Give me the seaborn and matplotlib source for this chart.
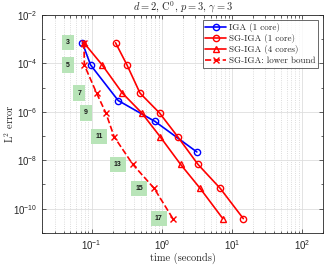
import numpy as np
import pandas as pd
import seaborn as sns
import matplotlib
matplotlib.use("Agg")
import matplotlib.pyplot as plt
from matplotlib.ticker import LogLocator, NullFormatter

# data (time in seconds, L2 error)
iga_time = [0.074, 0.097, 0.24, 0.80, 3.16]
iga_err = [7e-4, 8.5e-5, 2.9e-6, 4.0e-7, 2.2e-8]

sg_err = [7e-4, 8.5e-5, 5.9e-6, 8.9e-7, 9.3e-8, 6.8e-9, 6.9e-10, 3.9e-11]
sg1_time = [0.22, 0.32, 0.49, 0.93, 1.69, 3.27, 6.8, 14.5]
sg4_time = [0.078, 0.142, 0.275, 0.52, 0.95, 1.85, 3.52, 7.4]
lb_time = [0.078, 0.079, 0.118, 0.16, 0.21, 0.386, 0.78, 1.44]

levels = ["3", "5", "7", "9", "11", "13", "15", "17"]
level_x = [0.0464, 0.0464, 0.0667, 0.083, 0.127, 0.235, 0.48, 0.90]

sns.set_style("ticks")
plt.rcParams["mathtext.fontset"] = "cm"
plt.rcParams["axes.formatter.use_mathtext"] = True
plt.rcParams["font.family"] = ["Liberation Sans", "DejaVu Sans"]
serif = "cmr10"

fig = plt.figure(figsize=(3.24, 2.65), dpi=100)
ax = fig.add_axes([0.131, 0.121, 0.867, 0.823])

series = [
    ("IGA (1 core)", iga_time, iga_err, "blue", "o", "-"),
    ("SG-IGA (1 core)", sg1_time, sg_err, "red", "o", "-"),
    ("SG-IGA (4 cores)", sg4_time, sg_err, "red", "^", "-"),
    ("SG-IGA: lower bound", lb_time, sg_err, "red", "x", "--"),
]
for name, t, e, c, m, ls in series:
    df = pd.DataFrame({"time": t, "err": e})
    sns.lineplot(data=df, x="time", y="err", ax=ax, sort=False, estimator=None,
                 color=c, marker=m, linestyle=ls, linewidth=1.2, markersize=4.5,
                 markerfacecolor="none", markeredgecolor=c, markeredgewidth=1.0,
                 label=name)

for lab, x, y in zip(levels, level_x, sg_err):
    ax.text(x, y, lab, fontsize=5, fontweight="bold", ha="center", va="center",
            color="#1a1a1a",
            bbox=dict(boxstyle="square,pad=0.6", facecolor="#b8e4b8", edgecolor="none"))

ax.set_xscale("log")
ax.set_yscale("log")
ax.set_xlim(0.02, 200)
ax.set_ylim(1e-11, 1e-2)
ax.set_xticks([1e-1, 1e0, 1e1, 1e2])
ax.xaxis.set_minor_locator(LogLocator(base=10, subs=np.arange(2, 10)))
ax.xaxis.set_minor_formatter(NullFormatter())
ax.set_yticks([1e-10, 1e-8, 1e-6, 1e-4, 1e-2])
ax.yaxis.set_minor_locator(LogLocator(base=10, subs=[1.0], numticks=20))
ax.yaxis.set_minor_formatter(NullFormatter())

ax.grid(True, which="major", color="#dedede", linewidth=0.6, linestyle="-")
ax.grid(True, which="minor", axis="x", color="#d0d0d0", linewidth=0.6, linestyle=":")
ax.set_axisbelow(True)
ax.tick_params(which="both", direction="in", top=True, right=True, labelsize=7,
               colors="#262626", length=3, width=0.5)
ax.tick_params(which="minor", length=1.8)
for s in ax.spines.values():
    s.set_linewidth(0.6)
    s.set_color("#262626")

ax.set_xlabel("time (seconds)", fontfamily=serif, fontsize=7.5, labelpad=1)
ax.set_ylabel("L$^2$ error", fontfamily=serif, fontsize=7.5)
ax.yaxis.set_label_coords(-0.095, 0.5)
ax.set_title(r"$d = 2$, C$^0$, $p = 3$, $\gamma = 3$", fontfamily=serif,
             fontsize=7.5, pad=3)

leg = ax.legend(loc="upper right", frameon=True, fancybox=False,
                edgecolor="#262626", borderaxespad=0.6, handlelength=2.3,
                labelspacing=0.25, borderpad=0.3, handletextpad=0.3,
                prop={"family": serif, "size": 6.5})
leg.get_frame().set_linewidth(0.6)

fig.savefig("out.png", dpi=100)
